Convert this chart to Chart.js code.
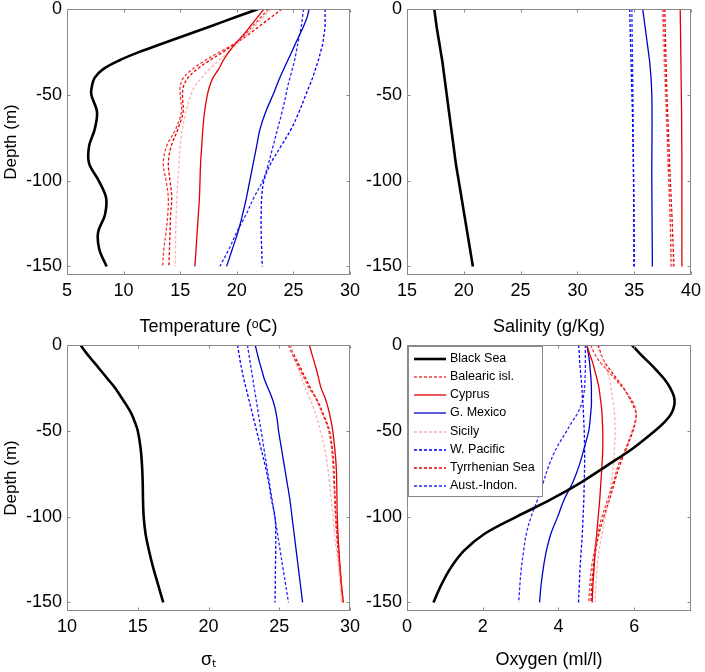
<!DOCTYPE html>
<html><head><meta charset="utf-8">
<script src="https://cdn.jsdelivr.net/npm/chart.js@4.4.0/dist/chart.umd.min.js"></script>
<style>
html,body{margin:0;padding:0;background:#fff;width:705px;height:672px;overflow:hidden}
canvas{position:absolute;left:0;top:0}
</style></head>
<body>
<canvas id="c1" width="705" height="672"></canvas>
<canvas id="c2" width="705" height="672"></canvas>
<canvas id="c3" width="705" height="672"></canvas>
<canvas id="c4" width="705" height="672"></canvas>
<script>
// ---------- data ----------
const depth = [0,-5,-10,-15,-20,-25,-30,-35,-40,-45,-50,-60,-70,-80,-90,-100,-110,-120,-130,-140,-150];
const depthTicks = [0,-50,-100,-150];
const sites = ['Black Sea','Balearic isl.','Cyprus','G. Mexico','Sicily','W. Pacific','Tyrrhenian Sea','Aust.-Indon.'];

const tempTicks = [5,10,15,20,25,30];
const tBlackSea   = [21.9,19.8,17.7,15.6,13.5,11.4,9.6,8.2,7.45,7.2,7.15,7.65,7.45,6.95,6.95,7.8,8.45,8.35,7.75,7.85,8.5];
const tBalearic   = [22.8,22.1,21.4,20.7,19.8,18.5,17.2,16.1,15.3,15.0,15.0,15.1,14.6,13.8,13.5,13.75,13.95,13.9,13.75,13.55,13.45];
const tCyprus     = [22.4,21.8,21.2,20.6,19.9,19.3,18.8,18.4,17.9,17.6,17.4,17.15,17.0,16.9,16.8,16.75,16.7,16.6,16.5,16.4,16.3];
const tGMexico    = [26.4,26.2,25.9,25.55,25.2,24.85,24.5,24.15,23.8,23.5,23.2,22.55,22.05,21.75,21.45,21.15,20.85,20.5,20.1,19.6,19.1];
const tSicily     = [23.0,22.3,21.6,20.9,20.1,19.3,18.4,17.6,16.9,16.3,15.95,15.5,15.2,15.0,14.9,14.8,14.7,14.65,14.6,14.58,14.56];
const tWPacific   = [27.8,27.8,27.8,27.7,27.6,27.4,27.2,26.95,26.7,26.4,26.1,25.5,24.8,23.9,23.0,22.4,22.2,22.15,22.15,22.2,22.25];
const tTyrrhenian = [24.0,23.0,22.0,21.0,19.9,18.8,17.6,16.5,15.7,15.3,15.2,15.25,14.8,14.2,13.95,14.1,14.25,14.15,14.1,14.05,14.0];
const tAustIndon  = [25.9,25.8,25.7,25.55,25.4,25.25,25.1,24.9,24.7,24.5,24.35,24.0,23.6,23.2,22.8,22.3,21.5,20.8,20.0,19.3,18.5];

const salTicks = [15,20,25,30,35,40];
const sBlackSea   = [17.4,17.5,17.6,17.72,17.85,17.97,18.1,18.2,18.3,18.4,18.5,18.7,18.9,19.1,19.3,19.55,19.8,20.05,20.3,20.55,20.8];
const sBalearic   = [37.55,37.57,37.6,37.62,37.65,37.67,37.7,37.72,37.75,37.77,37.8,37.85,37.9,37.95,38.0,38.05,38.1,38.15,38.2,38.22,38.25];
const sCyprus     = [39.05,39.06,39.07,39.08,39.09,39.1,39.11,39.12,39.13,39.14,39.15,39.17,39.18,39.19,39.2,39.2,39.2,39.2,39.2,39.2,39.2];
const sGMexico    = [35.75,35.85,35.95,36.05,36.15,36.25,36.35,36.42,36.48,36.52,36.55,36.57,36.57,36.56,36.55,36.55,36.56,36.57,36.58,36.59,36.6];
const sSicily     = [37.45,37.47,37.5,37.53,37.55,37.58,37.61,37.64,37.67,37.7,37.73,37.79,37.85,37.91,37.97,38.03,38.09,38.15,38.21,38.28,38.35];
const sWPacific   = [34.6,34.62,34.64,34.66,34.68,34.7,34.72,34.74,34.76,34.78,34.8,34.84,34.87,34.9,34.93,34.95,34.97,34.98,34.99,35.0,35.0];
const sTyrrhenian = [37.7,37.71,37.72,37.74,37.76,37.78,37.8,37.82,37.84,37.86,37.88,37.94,38.0,38.06,38.12,38.18,38.25,38.32,38.38,38.44,38.5];
const sAustIndon  = [34.8,34.8,34.81,34.82,34.83,34.84,34.85,34.86,34.87,34.88,34.89,34.9,34.91,34.92,34.93,34.94,34.95,34.96,34.97,34.97,34.98];

const sigTicks = [10,15,20,25,30];
const gBlackSea   = [10.95,11.4,11.9,12.4,12.9,13.4,13.8,14.2,14.55,14.8,15.0,15.2,15.3,15.35,15.37,15.42,15.55,15.8,16.1,16.45,16.8];
const gBalearic   = [25.65,25.9,26.2,26.5,26.8,27.1,27.5,27.8,28.05,28.3,28.5,28.7,28.8,28.86,28.92,28.97,29.05,29.15,29.27,29.38,29.5];
const gCyprus     = [27.13,27.3,27.48,27.65,27.8,27.95,28.2,28.4,28.55,28.68,28.78,28.92,29.02,29.06,29.08,29.1,29.15,29.22,29.3,29.4,29.53];
const gGMexico    = [23.3,23.45,23.6,23.78,23.95,24.2,24.45,24.65,24.78,24.88,24.95,25.15,25.35,25.55,25.75,25.9,26.05,26.2,26.35,26.5,26.65];
const gSicily     = [25.8,25.95,26.15,26.4,26.6,26.85,27.1,27.35,27.55,27.75,27.9,28.2,28.4,28.55,28.68,28.8,28.9,29.05,29.2,29.3,29.4];
const gWPacific   = [22.05,22.15,22.25,22.37,22.5,22.65,22.8,22.95,23.1,23.25,23.4,23.7,24.0,24.25,24.45,24.7,24.75,24.75,24.73,24.72,24.7];
const gTyrrhenian = [25.75,26.0,26.3,26.6,26.9,27.2,27.55,27.85,28.1,28.35,28.55,28.75,28.85,28.9,28.95,29.0,29.08,29.18,29.3,29.4,29.52];
const gAustIndon  = [22.75,22.85,22.94,23.04,23.14,23.23,23.33,23.43,23.52,23.62,23.72,23.91,24.1,24.3,24.49,24.68,24.88,25.07,25.26,25.46,25.65];

const oxyTicks = [0,2,4,6];
const oBlackSea   = [5.94,6.15,6.38,6.6,6.8,6.95,7.05,7.06,6.98,6.8,6.55,5.98,5.3,4.6,3.8,2.9,2.05,1.5,1.15,0.9,0.7];
const oBalearic   = [4.85,4.95,5.1,5.3,5.5,5.7,5.87,6.0,6.05,6.02,5.95,5.78,5.58,5.45,5.3,5.15,5.03,4.95,4.87,4.83,4.8];
const oCyprus     = [4.75,4.82,4.9,4.96,5.02,5.07,5.1,5.13,5.15,5.16,5.17,5.17,5.15,5.12,5.09,5.05,5.01,4.97,4.94,4.91,4.89];
const oGMexico    = [4.75,4.79,4.82,4.84,4.86,4.87,4.87,4.87,4.85,4.83,4.8,4.68,4.55,4.38,4.15,3.98,3.8,3.68,3.6,3.54,3.5];
const oSicily     = [5.0,5.1,5.2,5.28,5.35,5.39,5.42,5.45,5.48,5.49,5.5,5.48,5.45,5.4,5.33,5.24,5.15,5.07,5.02,4.99,4.97];
const oWPacific   = [4.53,4.55,4.56,4.58,4.6,4.62,4.63,4.65,4.66,4.67,4.68,4.69,4.69,4.68,4.67,4.65,4.63,4.6,4.57,4.55,4.53];
const oTyrrhenian = [5.05,5.12,5.22,5.38,5.55,5.72,5.85,5.97,6.05,6.03,5.97,5.8,5.62,5.48,5.35,5.2,5.07,4.98,4.92,4.88,4.86];
const oAustIndon  = [4.71,4.71,4.71,4.71,4.7,4.69,4.66,4.6,4.5,4.35,4.22,3.95,3.75,3.6,3.45,3.28,3.15,3.08,3.02,2.98,2.95];

// ---------- styles ----------
const FONT = '"Liberation Sans", Arial, Helvetica, sans-serif';
const styles = [
  {color:'#000000', width:2.6, dash:[]},
  {color:'#f03a3a', width:1.3, dash:[3,2]},
  {color:'#e00000', width:1.3, dash:[]},
  {color:'#0000c8', width:1.3, dash:[]},
  {color:'#ffb0b0', width:1.3, dash:[3,2]},
  {color:'#0000ff', width:1.3, dash:[3,2]},
  {color:'#e80000', width:1.3, dash:[3,2]},
  {color:'#2424ff', width:1.3, dash:[3,2]}
];
const FRAME = '#8a8a8a';

function framePlugin(xTicks){
  return {
    id:'frame',
    afterDraw(chart){
      const {ctx, chartArea:a} = chart;
      const xs = chart.scales.x, ys = chart.scales.y;
      ctx.save();
      ctx.strokeStyle = FRAME; ctx.lineWidth = 1; ctx.setLineDash([]);
      const l = Math.round(a.left)+0.5, r = Math.round(a.right)-0.5, t = Math.round(a.top)+0.5, b = Math.round(a.bottom)-0.5;
      ctx.beginPath();
      xTicks.forEach(v=>{
        const p = Math.round(xs.getPixelForValue(v))+0.5;
        ctx.moveTo(p,b); ctx.lineTo(p,b-3);
        ctx.moveTo(p,t); ctx.lineTo(p,t+3);
      });
      depthTicks.forEach(v=>{
        const p = Math.round(ys.getPixelForValue(v))+0.5;
        ctx.moveTo(l,p); ctx.lineTo(l+3,p);
        ctx.moveTo(r,p); ctx.lineTo(r-3,p);
      });
      ctx.stroke();
      ctx.strokeRect(l, t, r-l, b-t);
      ctx.restore();
    }
  };
}

const legendPlugin = {
  id:'boxlegend',
  afterDraw(chart){
    const ctx = chart.ctx;
    ctx.save();
    ctx.fillStyle = '#ffffff';
    ctx.fillRect(408.5, 346.5, 134, 150);
    ctx.strokeStyle = FRAME; ctx.lineWidth = 1; ctx.setLineDash([]);
    ctx.strokeRect(408.5, 346.5, 134, 150);
    ctx.font = '12.5px ' + FONT;
    ctx.textBaseline = 'middle'; ctx.textAlign = 'left';
    chart.data.datasets.forEach((ds,i)=>{
      const y = Math.round(359.3 + i*18.05);
      ctx.strokeStyle = ds.borderColor; ctx.lineWidth = ds.borderWidth;
      ctx.setLineDash(ds.borderDash || []);
      ctx.beginPath(); ctx.moveTo(414,y); ctx.lineTo(446,y); ctx.stroke();
      ctx.fillStyle = '#000';
      ctx.fillText(ds.label, 450, y);
    });
    ctx.restore();
  }
};

function makePanel(cfg){
  const yw = cfg.yw, xh = cfg.xh;
  const datasets = cfg.series.map((vals,i)=>({
    label: sites[i],
    data: depth.map((d,k)=>({x: vals[k], y: d})),
    showLine: true,
    borderColor: styles[i].color,
    backgroundColor: styles[i].color,
    borderWidth: styles[i].width,
    borderDash: styles[i].dash,
    pointRadius: 0,
    tension: 0.35,
    fill: false
  }));
  const plugins = [framePlugin(cfg.xTicks)];
  if (cfg.legend) plugins.push(legendPlugin);
  return new Chart(document.getElementById(cfg.id), {
    type: 'scatter',
    data: {datasets},
    plugins,
    options: {
      responsive:false, animation:false, devicePixelRatio:1,
      layout:{padding:{left:cfg.L-yw, right:705-cfg.R, top:cfg.T, bottom:672-cfg.B-xh}},
      plugins:{legend:{display:false}, tooltip:{enabled:false}},
      scales:{
        x:{
          type:'linear', position:'bottom', min:cfg.xMin, max:cfg.xMax,
          grid:{display:false, drawTicks:false}, border:{display:false},
          afterBuildTicks(s){ s.ticks = cfg.xTicks.map(v=>({value:v})); },
          afterFit(s){ s.height = xh; s.paddingLeft = 0; s.paddingRight = 0; },
          ticks:{padding:5, color:'#000', font:{family:FONT, size:18}, maxRotation:0, autoSkip:false, callback:v=>String(v)},
          title:{display:true, text:cfg.xTitle, color:'#000', font:{family:FONT, size:18}, padding:{top:0,bottom:0}}
        },
        y:{
          type:'linear', position:'left', min:-155, max:0,
          grid:{display:false, drawTicks:false}, border:{display:false},
          afterBuildTicks(s){ s.ticks = depthTicks.map(v=>({value:v})); },
          afterFit(s){ s.width = yw; s.paddingTop = 0; s.paddingBottom = 0; },
          ticks:{padding:5, color:'#000', font:{family:FONT, size:18}, autoSkip:false, callback:v=>String(v)},
          title:{display:cfg.yTitle, text:'Depth (m)', color:'#000', font:{family:FONT, size:17}, padding:{top:1,bottom:0}}
        }
      }
    }
  });
}

makePanel({id:'c1', L:67, R:350, T:9, B:275, yw:67, xh:63, xMin:5, xMax:30, xTicks:tempTicks,
  xTitle:'Temperature (\u1D52C)', yTitle:true,
  series:[tBlackSea,tBalearic,tCyprus,tGMexico,tSicily,tWPacific,tTyrrhenian,tAustIndon]});
makePanel({id:'c2', L:407, R:691, T:9, B:275, yw:60, xh:63, xMin:15, xMax:40, xTicks:salTicks,
  xTitle:'Salinity (g/Kg)', yTitle:false,
  series:[sBlackSea,sBalearic,sCyprus,sGMexico,sSicily,sWPacific,sTyrrhenian,sAustIndon]});
makePanel({id:'c3', L:67, R:350, T:345, B:611, yw:67, xh:60, xMin:10, xMax:30, xTicks:sigTicks,
  xTitle:'\u03C3\u209C', yTitle:true,
  series:[gBlackSea,gBalearic,gCyprus,gGMexico,gSicily,gWPacific,gTyrrhenian,gAustIndon]});
makePanel({id:'c4', L:407, R:691, T:345, B:611, yw:60, xh:60, xMin:0, xMax:7.5, xTicks:oxyTicks,
  xTitle:'Oxygen (ml/l)', yTitle:false, legend:true,
  series:[oBlackSea,oBalearic,oCyprus,oGMexico,oSicily,oWPacific,oTyrrhenian,oAustIndon]});
</script>
</body></html>
